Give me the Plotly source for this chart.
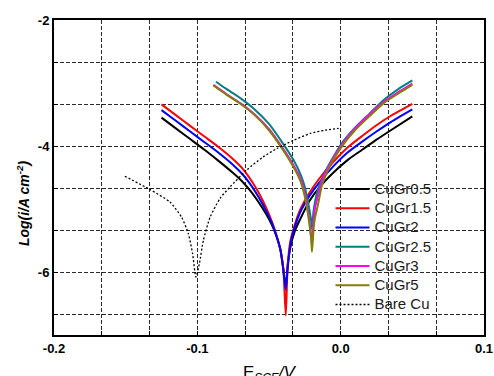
import plotly.graph_objects as go

# ---- data ----
E_A = [-0.125, -0.115, -0.105, -0.095, -0.085, -0.075, -0.068, -0.062, -0.057, -0.052, -0.048, -0.045, -0.042,
       -0.040, -0.0383,
       -0.037, -0.035, -0.032, -0.028, -0.022, -0.015, -0.005, 0.005, 0.015, 0.025, 0.035, 0.05]
logi_CuGr05 = [-3.55, -3.72, -3.89, -4.06, -4.24, -4.43, -4.58, -4.74, -4.90, -5.08, -5.25, -5.42, -5.65,
               -5.95, -6.25,
               -5.90, -5.60, -5.35, -5.15, -4.88, -4.66, -4.42, -4.22, -4.06, -3.90, -3.75, -3.53]
logi_CuGr15 = [-3.34, -3.51, -3.68, -3.85, -4.02, -4.21, -4.37, -4.56, -4.75, -4.98, -5.20, -5.40, -5.65,
               -5.95, -6.69,
               -5.90, -5.50, -5.25, -5.00, -4.75, -4.52, -4.25, -4.02, -3.84, -3.67, -3.52, -3.33]
logi_CuGr2 = [-3.43, -3.60, -3.77, -3.94, -4.11, -4.30, -4.46, -4.64, -4.82, -5.03, -5.22, -5.41, -5.65,
              -5.97, -6.28,
              -5.95, -5.55, -5.28, -5.04, -4.80, -4.58, -4.32, -4.10, -3.93, -3.77, -3.62, -3.42]

E_teal = [-0.087, -0.080, -0.070, -0.060, -0.050, -0.040, -0.033, -0.028, -0.025, -0.023, -0.0215, -0.0205, -0.020,
          -0.019, -0.018, -0.016, -0.013, -0.009, -0.004, 0.002, 0.010, 0.020, 0.030, 0.040, 0.050]
logi_CuGr25 = [-2.98, -3.09, -3.24, -3.42, -3.65, -3.97, -4.22, -4.45, -4.65, -4.87, -5.05, -5.20, -5.32,
               -5.05, -4.90, -4.70, -4.52, -4.33, -4.13, -3.92, -3.71, -3.49, -3.27, -3.10, -2.96]

E_B = [-0.0888, -0.080, -0.070, -0.060, -0.050, -0.040, -0.033, -0.028, -0.025, -0.023, -0.0215, -0.0205, -0.020,
       -0.019, -0.018, -0.016, -0.013, -0.009, -0.004, 0.002, 0.010, 0.020, 0.030, 0.040, 0.050]
logi_CuGr3 = [-3.03, -3.17, -3.32, -3.50, -3.73, -4.05, -4.30, -4.52, -4.75, -5.00, -5.25, -5.45, -5.58,
              -5.20, -5.00, -4.80, -4.55, -4.35, -4.15, -3.94, -3.72, -3.50, -3.30, -3.15, -3.01]
logi_CuGr5 = [-3.04, -3.18, -3.33, -3.51, -3.75, -4.07, -4.33, -4.56, -4.80, -5.05, -5.30, -5.50, -5.68,
              -5.35, -5.15, -4.95, -4.62, -4.39, -4.18, -3.97, -3.75, -3.53, -3.32, -3.17, -3.03]

E_bare = [-0.1506, -0.1331, -0.1191, -0.111, -0.1063, -0.1033, -0.101, -0.0986, -0.0958, -0.0911, -0.0841,
          -0.0772, -0.0655, -0.0545, -0.0445, -0.0329, -0.0212, -0.0110, -0.0014]
logi_bare = [-4.48, -4.69, -4.89, -5.13, -5.39, -5.71, -6.08, -5.87, -5.50, -5.13, -4.83,
             -4.65, -4.38, -4.18, -4.04, -3.91, -3.80, -3.75, -3.72]

x_ticks = [-0.2, -0.1, 0.0, 0.1]
x_labels = ["-0.2", "-0.1", "0.0", "0.1"]
y_ticks = [-2, -4, -6]
y_labels = ["-2", "-4", "-6"]

series = [
    ("CuGr0.5", E_A, logi_CuGr05, "#000000", "solid", 2),
    ("CuGr1.5", E_A, logi_CuGr15, "#ff0000", "solid", 2),
    ("CuGr2", E_A, logi_CuGr2, "#0000ff", "solid", 2),
    ("CuGr2.5", E_teal, logi_CuGr25, "#008080", "solid", 2),
    ("CuGr3", E_B, logi_CuGr3, "#ff00ff", "solid", 2),
    ("CuGr5", E_B, logi_CuGr5, "#808000", "solid", 2),
    ("Bare Cu", E_bare, logi_bare, "#000000", "2px,2px", 1.3),
]

fig = go.Figure()
for name, xs, ys, col, dash, w in series:
    fig.add_trace(go.Scatter(x=xs, y=ys, mode="lines",
                             name='<span style="font-size:15px">' + name + '</span>',
                             line=dict(color=col, dash=dash, width=w, shape="spline", smoothing=0.6)))

font_fam = "Liberation Sans, Arial, sans-serif"
GRID = dict(gridcolor="#2a2a2a", griddash="4px,2px", gridwidth=0.9)

fig.update_layout(
    width=494, height=376,
    margin=dict(l=54, r=10, t=20, b=41),
    paper_bgcolor="white", plot_bgcolor="white",
    font=dict(family=font_fam, color="#000000"),
    showlegend=True,
    legend=dict(x=0.643, y=0.51, xanchor="left", yanchor="top",
                bgcolor="rgba(0,0,0,0)", borderwidth=0,
                font=dict(family=font_fam, size=12.5, color="#1a1a1a"),
                tracegroupgap=0, itemwidth=34),
    xaxis=dict(range=[-0.2, 0.1], tickvals=x_ticks, ticktext=x_labels,
               ticks="inside", ticklen=4, tickwidth=1.2, tickcolor="black",
               showline=True, linecolor="black", linewidth=2, mirror=True,
               showgrid=True, **GRID, zeroline=False,
               tickfont=dict(family=font_fam, size=13, weight="bold"),
               minor=dict(dtick=0.1/3, tick0=-0.2, showgrid=True, ticks="inside", ticklen=4,
                          tickcolor="black", **GRID),
               automargin=False),
    yaxis=dict(range=[-7, -2], tickvals=y_ticks, ticktext=y_labels,
               ticks="inside", ticklen=4, tickwidth=1.2, tickcolor="black",
               showline=True, linecolor="black", linewidth=2, mirror=True,
               showgrid=True, **GRID, zeroline=False,
               tickfont=dict(family=font_fam, size=13, weight="bold"),
               minor=dict(dtick=2/3, tick0=-2, showgrid=True, ticks="inside", ticklen=4,
                          tickcolor="black", **GRID),
               automargin=False),
)

fig.add_annotation(text="<i>Log(i/A cm<sup>-2</sup>)</i>", xref="paper", yref="paper",
                   x=-0.072, y=0.419, xanchor="center", yanchor="middle",
                   textangle=-90, showarrow=False,
                   font=dict(family=font_fam, size=14, weight="bold"))
fig.add_annotation(text="E<sub><i>SCE</i></sub><i>/V</i>", xref="paper", yref="paper",
                   x=0.502, y=-0.0825, xanchor="center", yanchor="top", showarrow=False,
                   font=dict(family=font_fam, size=17))

# remove the browser's default 8px page margin so the figure sits at the window origin
fig.write_html("out.html",
               config={"displayModeBar": False},
               post_script="document.body.style.margin='0';document.body.style.overflow='hidden';")
